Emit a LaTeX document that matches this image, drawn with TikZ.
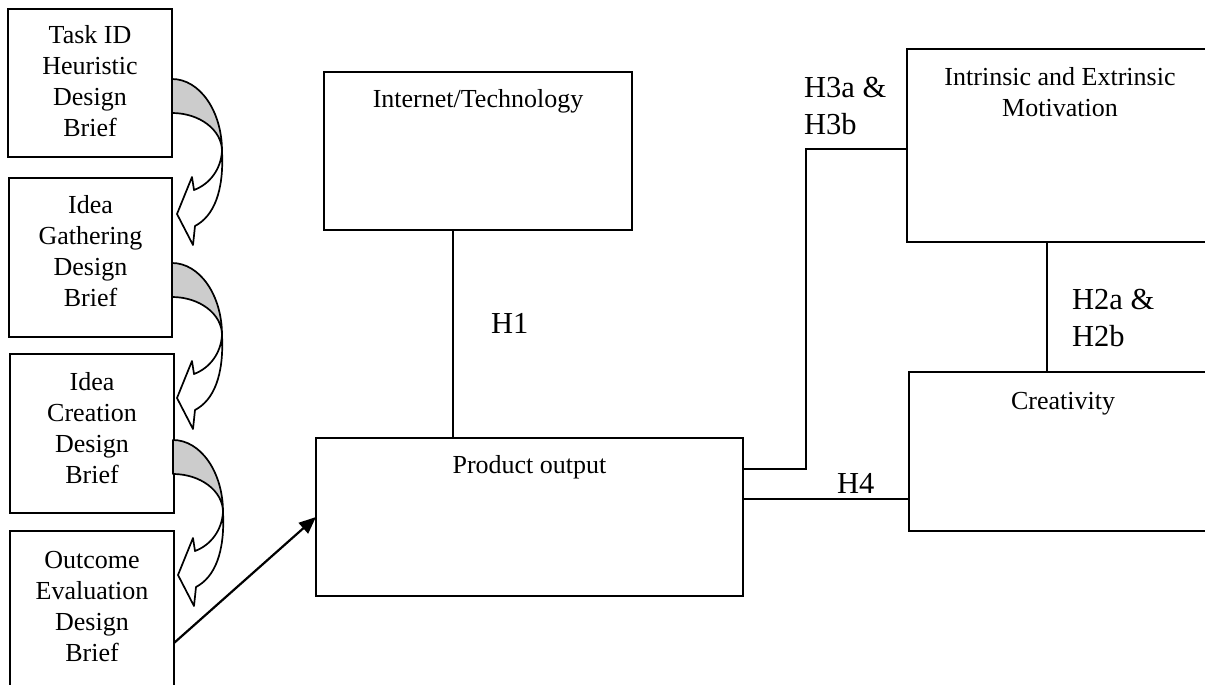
\documentclass[tikz,border=0pt]{standalone}
\usepackage{fontspec}
\setmainfont{Liberation Serif}
\usetikzlibrary{arrows.meta,calc}
\tikzset{
  box/.style={draw, rectangle, line width=1.8pt, inner sep=0pt, outer sep=0pt},
  txt/.style={inner sep=0pt, font=\fontsize{26pt}{31pt}\selectfont, align=center},
  hlab/.style={inner sep=0pt, font=\fontsize{30.5pt}{37pt}\selectfont, align=left},
  conn/.style={draw, line width=1.8pt},
  curvarrow/.pic={
    \filldraw[fill=gray!40, line width=1.7pt, line join=round]
      (0,-72) .. controls (27.6,-72) and (50,-40) .. (50,0)
      .. controls (50,-21) and (27.6,-38) .. (0,-38) -- cycle;
    \filldraw[fill=white, line width=1.7pt, line join=round]
      (50,0) .. controls (49,18) and (38,33) .. (22,39)
      -- (20,26) -- (5,63) -- (21,94) -- (23,75)
      .. controls (42,65) and (52,40) .. (50,0) -- cycle;
  }
}
\begin{document}
\begin{tikzpicture}[x={(1pt,0pt)}, y={(0pt,-1pt)}]
\useasboundingbox (0,0) rectangle (1205,685);
\clip (0,0) rectangle (1205,685);
\fill[white] (0,0) rectangle (1205,685);

% left column boxes
\node[box, minimum width=164pt, minimum height=148pt] (b1) at (90,83) {};
\node[box, minimum width=163pt, minimum height=159pt] (b2) at (90.5,257.5) {};
\node[box, minimum width=164pt, minimum height=159pt] (b3) at (92,433.5) {};
\node[box, minimum width=164pt, minimum height=179pt] (b4) at (92,620.5) {};

\node[txt, anchor=north] (t1) at (90,25) {\rule{0pt}{18pt}Task ID\\Heuristic\\Design\\Brief};
\node[txt, anchor=north] (t2) at (90.5,195) {\rule{0pt}{18pt}Idea\\Gathering\\Design\\Brief};
\node[txt, anchor=north] (t3) at (92,372) {\rule{0pt}{18pt}Idea\\Creation\\Design\\Brief};
\node[txt, anchor=north] (t4) at (92,550) {\rule{0pt}{18pt}Outcome\\Evaluation\\Design\\Brief};

% curved block arrows between the left boxes
\pic at ($(b1.south east)+(0,-6)$) {curvarrow};
\pic at ($(b2.south east)+(0,-2)$) {curvarrow};
\pic at ($(b3.south east)+(-1,-1)$) {curvarrow};

% central and right boxes
\node[box, minimum width=308pt, minimum height=158pt] (int) at (478,151) {};
\node[box, minimum width=427pt, minimum height=158pt] (prod) at (529.5,517) {};
\node[box, minimum width=308pt, minimum height=193pt] (mot) at (1061,145.5) {};
\node[box, minimum width=308pt, minimum height=159pt] (crea) at (1063,451.5) {};

\node[txt, anchor=base] (tint) at (478,107) {Internet/Technology};
\node[txt, anchor=base] (tprod) at (529.5,473) {Product output};
\node[txt, anchor=north] (tmot) at (1060,67) {\rule{0pt}{18pt}Intrinsic and Extrinsic\\Motivation};
\node[txt, anchor=base] (tcrea) at (1063,409) {Creativity};

% connectors
\coordinate (h1x) at (453,0);
\coordinate (h2x) at (1047,0);
\coordinate (h3k) at (806,469);
\coordinate (h3t) at (806,149);
\coordinate (h4y) at (0,499);
\coordinate (arrs) at (0,643);
\coordinate (arre) at (0,517);

\path[conn] (int.south -| h1x) -- (prod.north -| h1x);
\path[conn] (prod.east |- h3k) -- (h3k) -- (h3t) -- (mot.west |- h3t);
\path[conn] (prod.east |- h4y) -- (crea.west |- h4y);
\path[conn] (mot.south -| h2x) -- (crea.north -| h2x);
\draw[line width=2.2pt, -{Triangle[length=17pt,width=14pt]}] (b4.east |- arrs) -- (prod.west |- arre);

% hypothesis labels
\node[hlab, anchor=base west] (lh1) at (491,333) {H1};
\node[hlab, anchor=north west] (lh3) at (804,75.7) {\rule{0pt}{22pt}H3a \&\\H3b};
\node[hlab, anchor=north west] (lh2) at (1072,287.6) {\rule{0pt}{22pt}H2a \&\\H2b};
\node[hlab, anchor=base west] (lh4) at (837,493.5) {H4};
\end{tikzpicture}
\end{document}
